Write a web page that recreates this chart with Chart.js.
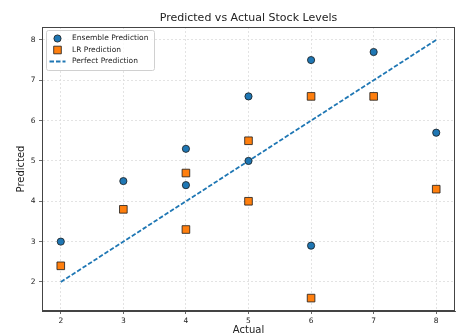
<!DOCTYPE html>
<html>
<head>
<meta charset="utf-8">
<script src="https://cdn.jsdelivr.net/npm/chart.js@4.4.0/dist/chart.umd.min.js"></script>
<style>
  html, body { margin: 0; padding: 0; background: #fff; }
  #wrap { width: 456px; height: 336px; }
</style>
</head>
<body>
<div id="wrap"><canvas id="stockChart" width="456" height="336"></canvas></div>
<script>
// Data
const actual = [2, 3, 4, 4, 5, 5, 6, 6, 7, 8];
const ensemblePred = [3.0, 4.5, 5.3, 4.4, 6.6, 5.0, 7.5, 2.9, 7.7, 5.7];
const lrPred = [2.4, 3.8, 4.7, 3.3, 5.5, 4.0, 6.6, 1.6, 6.6, 4.3];
const perfectLine = [2, 8];
const xTicks = [2, 3, 4, 5, 6, 7, 8];
const yTicks = [2, 3, 4, 5, 6, 7, 8];
const chartTitle = 'Predicted vs Actual Stock Levels';

const FONT = "'DejaVu Sans', sans-serif";
const BLUE = '#1f77b4';
const ORANGE = '#ff7f0e';

Chart.defaults.font.family = FONT;
Chart.defaults.color = '#222';

function toPoints(xs, ys) {
    return xs.map((x, i) => ({ x: x, y: ys[i] }));
}

// Full box around the plot like matplotlib spines, title centred over the axes
const framePlugin = {
    id: 'frame',
    afterDatasetsDraw(chart) {
        const { ctx, chartArea: a } = chart;
        ctx.save();
        ctx.strokeStyle = '#444';
        ctx.lineWidth = 1;
        ctx.strokeRect(a.left + 0.5, a.top + 0.5, a.right - a.left - 1, a.bottom - a.top - 1);

        ctx.font = '11px ' + FONT;
        ctx.fillStyle = '#222';
        ctx.textAlign = 'center';
        ctx.textBaseline = 'middle';
        ctx.fillText(chartTitle, (a.left + a.right) / 2, a.top - 9);
        ctx.restore();
    }
};

// Legend box in the upper-left corner of the plot
const insideLegend = {
    id: 'insideLegend',
    afterDraw(chart) {
        const { ctx, chartArea: a } = chart;
        const x0 = a.left + 4, y0 = a.top + 3;
        const w = 108, h = 40;
        ctx.save();
        ctx.fillStyle = 'rgba(255,255,255,0.8)';
        ctx.strokeStyle = '#d0d0d0';
        ctx.lineWidth = 1;
        ctx.beginPath();
        ctx.roundRect(x0 + 0.5, y0 + 0.5, w, h, 2);
        ctx.fill();
        ctx.stroke();

        const mx = x0 + 11.5;
        const tx = x0 + 26;
        const rows = [y0 + 8.5, y0 + 20, y0 + 31.5];
        ctx.font = '7.5px ' + FONT;
        ctx.textBaseline = 'middle';
        chart.data.datasets.forEach((ds, i) => {
            const y = rows[i];
            if (ds.showLine) {
                ctx.strokeStyle = ds.borderColor;
                ctx.lineWidth = ds.borderWidth;
                ctx.setLineDash(ds.borderDash);
                ctx.beginPath();
                ctx.moveTo(mx - 8, y);
                ctx.lineTo(mx + 8, y);
                ctx.stroke();
                ctx.setLineDash([]);
            } else {
                ctx.fillStyle = ds.backgroundColor;
                ctx.strokeStyle = ds.borderColor;
                ctx.lineWidth = ds.borderWidth;
                ctx.beginPath();
                if (ds.pointStyle === 'circle') {
                    ctx.arc(mx, y, ds.pointRadius, 0, Math.PI * 2);
                } else {
                    const s = ds.pointRadius * Math.SQRT1_2;
                    ctx.rect(mx - s, y - s, 2 * s, 2 * s);
                }
                ctx.fill();
                ctx.stroke();
            }
            ctx.fillStyle = '#222';
            ctx.fillText(ds.label, tx, y);
        });
        ctx.restore();
    }
};

const ctx = document.getElementById('stockChart').getContext('2d');
new Chart(ctx, {
    type: 'scatter',
    data: {
        datasets: [
            {
                label: 'Ensemble Prediction',
                data: toPoints(actual, ensemblePred),
                pointStyle: 'circle',
                pointRadius: 3.6,
                backgroundColor: BLUE,
                borderColor: '#1a1a1a',
                borderWidth: 0.8,
                order: 2
            },
            {
                label: 'LR Prediction',
                data: toPoints(actual, lrPred),
                pointStyle: 'rect',
                pointRadius: 5.4,
                backgroundColor: ORANGE,
                borderColor: '#1a1a1a',
                borderWidth: 0.8,
                order: 1
            },
            {
                label: 'Perfect Prediction',
                data: toPoints(perfectLine, perfectLine),
                showLine: true,
                pointRadius: 0,
                borderColor: BLUE,
                borderWidth: 1.8,
                borderDash: [4.5, 2],
                fill: false,
                order: 0
            }
        ]
    },
    options: {
        responsive: false,
        animation: false,
        layout: { autoPadding: false, padding: { top: 27, right: 1 } },
        plugins: {
            legend: { display: false },
            tooltip: { enabled: false },
            title: { display: false }
        },
        scales: {
            x: {
                type: 'linear',
                min: 1.7,
                max: 8.3,
                afterBuildTicks: (scale) => { scale.ticks = xTicks.map(v => ({ value: v })); },
                afterFit: (scale) => {
                    scale.height = 25;
                    scale.paddingLeft = 0;
                    scale.paddingRight = 0;
                },
                ticks: { font: { size: 7.5 }, color: '#222', padding: 3, maxRotation: 0 },
                grid: { color: '#dcdcdc', lineWidth: 0.8, tickLength: 3, tickColor: '#444', tickWidth: 0.8 },
                border: { display: true, color: '#444', width: 1, dash: [2, 2] },
                title: { display: true, text: 'Actual', font: { size: 10 }, color: '#222', padding: { top: 0, bottom: 0 } }
            },
            y: {
                type: 'linear',
                min: 1.28,
                max: 8.32,
                afterBuildTicks: (scale) => { scale.ticks = yTicks.map(v => ({ value: v })); },
                afterFit: (scale) => {
                    scale.width = 42;
                    scale.paddingTop = 0;
                    scale.paddingBottom = 0;
                },
                ticks: { font: { size: 7.5 }, color: '#222', padding: 3.5 },
                grid: { color: '#dcdcdc', lineWidth: 0.8, tickLength: 3, tickColor: '#444', tickWidth: 0.8 },
                border: { display: true, color: '#444', width: 1, dash: [2, 2] },
                title: { display: true, text: 'Predicted', font: { size: 10 }, color: '#222', padding: { top: 15.5, bottom: 0 } }
            }
        }
    },
    plugins: [framePlugin, insideLegend]
});
</script>
</body>
</html>
